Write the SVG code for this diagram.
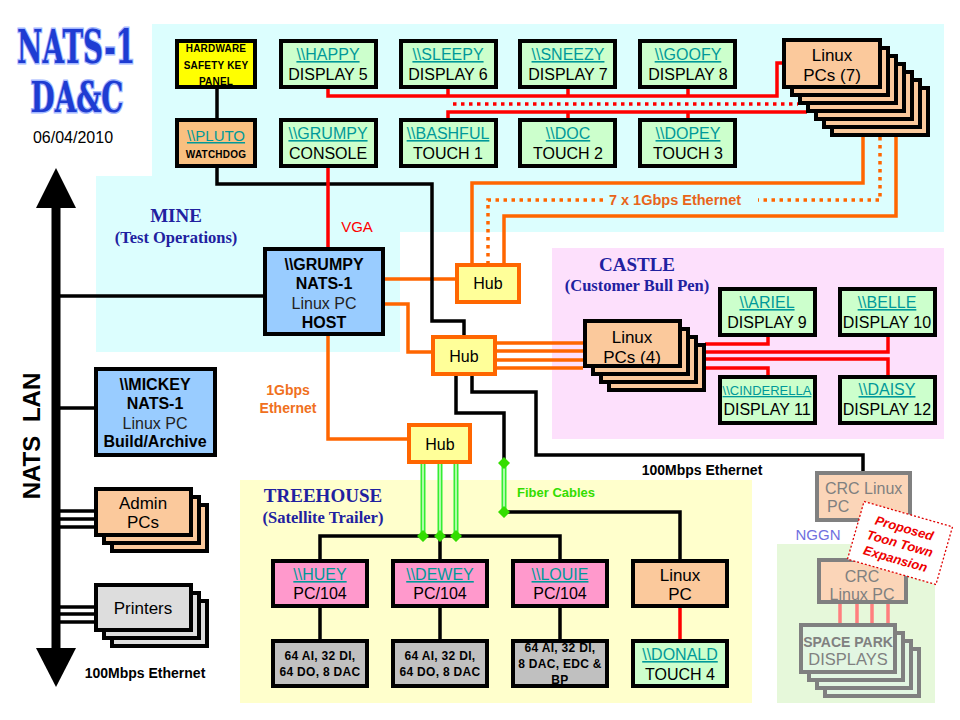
<svg xmlns="http://www.w3.org/2000/svg" width="960" height="720" viewBox="0 0 960 720">
<style>
text{font-family:"Liberation Sans",Arial,sans-serif;text-anchor:middle;fill:#000}
.bx{stroke:#000;stroke-width:4}
.grn{fill:#ccffcc}
.pch{fill:#fbc99c}
.blu{fill:#99ccff}
.pnk{fill:#ff99cc}
.gry{fill:#c0c0c0}
.hub{fill:#ffff99;stroke:#ff6600;stroke-width:4}
.f16{font-size:16px}
.lnk{fill:#009999;text-decoration:underline}
.b{font-weight:bold}
.io{font-size:12px;font-weight:bold;letter-spacing:0.3px}
.hw{font-weight:bold;letter-spacing:0.2px}
.ser{font-family:"Liberation Serif","Times New Roman",serif;font-weight:bold;fill:#2121a0}
.bk{fill:none;stroke:#000;stroke-width:3.5}
.rd{fill:none;stroke:#ff0000;stroke-width:3.5}
.rdd{fill:none;stroke:#ff0000;stroke-width:3.5;stroke-dasharray:3.5 4.5}
.or{fill:none;stroke:#ff6600;stroke-width:3.5}
.ord{fill:none;stroke:#ff6600;stroke-width:3.5;stroke-dasharray:3.5 4.5}
.fib{fill:none;stroke:#33ee33;stroke-width:5}
.fibi{fill:none;stroke:#d8ffd0;stroke-width:1.5}
.dia{fill:#33dd00}
.crc{fill:#fbd5b8;stroke:#808080;stroke-width:4}
.sp{fill:#e2f6e2;stroke:#808080;stroke-width:4}
.gt{fill:#808080}
.ttl{font-family:"DejaVu Serif","Liberation Serif",serif;font-weight:bold;fill:#1e3cd2;stroke:#a4b8ff;stroke-width:3;paint-order:stroke}
.note{font-size:13px;font-weight:bold;font-style:italic;fill:#ee0000}
</style>

<g id="backgrounds">
<rect width="960" height="720" fill="#ffffff"/>
<polygon points="152,24 944,24 944,232 400,232 400,352 96,352 96,176 152,176" fill="#dcfefe"/>
<rect x="552" y="248" width="392" height="191" fill="#fde0fc"/>
<rect x="240" y="480" width="512" height="223" fill="#ffffcc"/>
<rect x="777" y="544" width="158" height="159" fill="#e6f8da"/>
</g>

<g id="title">
<text class="ttl" x="76" y="63" font-size="47" textLength="118" lengthAdjust="spacingAndGlyphs">NATS-1</text>
<text class="ttl" x="77" y="112" font-size="43" textLength="93" lengthAdjust="spacingAndGlyphs">DA&amp;C</text>
<text x="73" y="143" font-size="16">06/04/2010</text>
</g>

<g id="zone-labels">
<text class="ser" x="176" y="222" font-size="19">MINE</text>
<text class="ser" x="176" y="243" font-size="16.5">(Test Operations)</text>
<text class="ser" x="637" y="271" font-size="19">CASTLE</text>
<text class="ser" x="637" y="291" font-size="16.5">(Customer Bull Pen)</text>
<text class="ser" x="323" y="502" font-size="19">TREEHOUSE</text>
<text class="ser" x="323" y="523" font-size="16.5">(Satellite Trailer)</text>
<text x="818" y="540" font-size="15" style="fill:#7070e0">NGGN</text>
</g>

<g id="nats-lan">
<line x1="56" y1="200" x2="56" y2="655" stroke="#000" stroke-width="9"/>
<polygon points="56,168 36,208 76,208" fill="#000"/>
<polygon points="56,687 36,648 76,648" fill="#000"/>
<text transform="translate(40,436) rotate(-90)" font-size="24" font-weight="bold" word-spacing="7">NATS LAN</text>
<text x="145" y="678" font-size="14" font-weight="bold">100Mbps Ethernet</text>
</g>

<g id="connectors">
<path class="bk" d="M56,296 H263 M56,408 H94 M56,511 H94 M56,519 H94 M56,527 H94 M56,607 H94 M56,614 H94 M56,622 H94"/>
<path class="or" d="M385,279 H455 M385,304 H408 V352 H431 M497,343 H583 M497,351 H583 M497,360 H583 M497,368 H583 M328,336 V439 H407 M863,137 V183 H472 V263 M896,137 V216 H504 V263"/>
<path class="ord" d="M880,137 V200 H758 M603,200 H488 V263"/>
<path class="bk" d="M217,89 V118 M217,168 V184 H432 V321 H464 V335 M456,376 V413 H504 V463 M472,376 V392 H536 V455 H863 V471 M504,512 H680 V559 M320,559 V536 H560 V559 M440,536 V559 M320,608 V639 M440,608 V639 M560,608 V639"/>
<path class="rd" d="M328,89 V96 H777 V63 H782 M448,89 V96 M568,89 V96 M688,89 V96 M448,118 V112 H807 M568,112 V118 M688,112 V118 M328,168 V247 M705,344 H768 V337 M705,352 H888 V337 M705,359 H888 V375 M705,368 H768 V375 M680,608 V639"/>
<path class="rdd" d="M453,104 H798"/>
<path class="fib" d="M423,464 V536 M440,464 V536 M456,464 V536 M504,463 V512"/>
<path class="fibi" d="M423,464 V536 M440,464 V536 M456,464 V536 M504,463 V512"/>
<path class="dia" d="M423,530 l6,6 l-6,6 l-6,-6z M440,530 l6,6 l-6,6 l-6,-6z M456,530 l6,6 l-6,6 l-6,-6z M504,457 l6,6 l-6,6 l-6,-6z M504,506 l6,6 l-6,6 l-6,-6z"/>
<path d="M840,604 V623 M857,604 V623 M872,604 V623 M888,604 V623" fill="none" stroke="#ff7f7f" stroke-width="3.5"/>
<text x="357" y="232" font-size="15" style="fill:#ff0000">VGA</text>
<text x="675" y="205" font-size="14.5" font-weight="bold" style="fill:#e8641a">7 x 1Gbps Ethernet</text>
<text x="288" y="395" font-size="14" font-weight="bold" style="fill:#f07020">1Gbps</text>
<text x="288" y="413" font-size="14" font-weight="bold" style="fill:#f07020">Ethernet</text>
<text x="702" y="475" font-size="14" font-weight="bold">100Mbps Ethernet</text>
<text x="556" y="497" font-size="13" font-weight="bold" style="fill:#33dd00">Fiber Cables</text>
</g>

<g id="hardware-key-panel">
<rect class="bx" x="177" y="41" width="78" height="46" fill="#ffff00"/>
<text class="hw" x="216" y="52" font-size="10"><tspan x="216" y="52">HARDWARE</tspan><tspan x="216" y="68.5">SAFETY KEY</tspan><tspan x="216" y="85">PANEL</tspan></text>
</g>
<g id="happy">
<rect class="bx grn" x="281" y="41" width="95" height="46"/>
<text class="f16 lnk" x="328" y="60">\\HAPPY</text>
<text class="f16" x="328" y="80">DISPLAY 5</text>
</g>
<g id="sleepy">
<rect class="bx grn" x="401" y="41" width="95" height="46"/>
<text class="f16 lnk" x="448" y="60">\\SLEEPY</text>
<text class="f16" x="448" y="80">DISPLAY 6</text>
</g>
<g id="sneezy">
<rect class="bx grn" x="520" y="41" width="95" height="46"/>
<text class="f16 lnk" x="568" y="60">\\SNEEZY</text>
<text class="f16" x="568" y="80">DISPLAY 7</text>
</g>
<g id="goofy">
<rect class="bx grn" x="640" y="41" width="95" height="46"/>
<text class="f16 lnk" x="688" y="60">\\GOOFY</text>
<text class="f16" x="688" y="80">DISPLAY 8</text>
</g>
<g id="linux-pcs-7">
<rect class="bx pch" x="832" y="88" width="96" height="47"/>
<rect class="bx pch" x="824" y="80" width="96" height="47"/>
<rect class="bx pch" x="816" y="72" width="96" height="47"/>
<rect class="bx pch" x="808" y="64" width="96" height="47"/>
<rect class="bx pch" x="800" y="56" width="96" height="47"/>
<rect class="bx pch" x="792" y="48" width="96" height="47"/>
<rect class="bx pch" x="784" y="40" width="96" height="47"/>
<text x="832" y="61" font-size="17">Linux</text>
<text x="832" y="81" font-size="17">PCs (7)</text>
</g>

<g id="pluto">
<rect class="bx" x="177" y="120" width="78" height="46" fill="#f9c080"/>
<text class="lnk" x="216" y="141" font-size="15">\\PLUTO</text>
<text class="hw" x="216" y="158" font-size="10">WATCHDOG</text>
</g>
<g id="grumpy-console">
<rect class="bx grn" x="281" y="120" width="95" height="46"/>
<text class="f16 lnk" x="328" y="139">\\GRUMPY</text>
<text class="f16" x="328" y="159">CONSOLE</text>
</g>
<g id="bashful">
<rect class="bx grn" x="401" y="120" width="95" height="46"/>
<text class="f16 lnk" x="448" y="139">\\BASHFUL</text>
<text class="f16" x="448" y="159">TOUCH 1</text>
</g>
<g id="doc">
<rect class="bx grn" x="520" y="120" width="95" height="46"/>
<text class="f16 lnk" x="568" y="139">\\DOC</text>
<text class="f16" x="568" y="159">TOUCH 2</text>
</g>
<g id="dopey">
<rect class="bx grn" x="640" y="120" width="95" height="46"/>
<text class="f16 lnk" x="688" y="139">\\DOPEY</text>
<text class="f16" x="688" y="159">TOUCH 3</text>
</g>

<g id="grumpy-host">
<rect class="bx blu" x="265" y="249" width="118" height="85"/>
<text class="f16 b" x="324" y="270">\\GRUMPY</text>
<text class="f16 b" x="324" y="289">NATS-1</text>
<text class="f16" x="324" y="309" style="fill:#222">Linux PC</text>
<text class="f16 b" x="324" y="328">HOST</text>
</g>
<g id="mickey">
<rect class="bx blu" x="96" y="369" width="119" height="86"/>
<text class="f16 b" x="155" y="390">\\MICKEY</text>
<text class="f16 b" x="155" y="409">NATS-1</text>
<text class="f16" x="155" y="429" style="fill:#222">Linux PC</text>
<text class="f16 b" x="155" y="447">Build/Archive</text>
</g>
<g id="admin-pcs">
<rect class="bx pch" x="112" y="505" width="95" height="46"/>
<rect class="bx pch" x="104" y="497" width="95" height="46"/>
<rect class="bx pch" x="96" y="489" width="95" height="46"/>
<text x="143" y="509" font-size="17">Admin</text>
<text x="143" y="528" font-size="17">PCs</text>
</g>
<g id="printers">
<rect class="bx" x="112" y="601" width="95" height="45" fill="#dddddd"/>
<rect class="bx" x="104" y="593" width="95" height="45" fill="#dddddd"/>
<rect class="bx" x="96" y="585" width="95" height="45" fill="#dddddd"/>
<text x="143" y="614" font-size="17">Printers</text>
</g>

<g id="hub-1">
<rect class="hub" x="457" y="265" width="62" height="37"/>
<text class="f16" x="488" y="289">Hub</text>
</g>
<g id="hub-2">
<rect class="hub" x="433" y="337" width="62" height="37"/>
<text class="f16" x="464" y="362">Hub</text>
</g>
<g id="hub-3">
<rect class="hub" x="409" y="425" width="61" height="37"/>
<text class="f16" x="440" y="450">Hub</text>
</g>

<g id="linux-pcs-4">
<rect class="bx pch" x="609" y="345" width="95" height="45"/>
<rect class="bx pch" x="601" y="337" width="95" height="45"/>
<rect class="bx pch" x="593" y="329" width="95" height="45"/>
<rect class="bx pch" x="585" y="321" width="95" height="45"/>
<text x="632" y="343" font-size="17">Linux</text>
<text x="632" y="363" font-size="17">PCs (4)</text>
</g>
<g id="ariel">
<rect class="bx grn" x="720" y="289" width="95" height="46"/>
<text class="f16 lnk" x="767" y="308">\\ARIEL</text>
<text class="f16" x="767" y="328">DISPLAY 9</text>
</g>
<g id="belle">
<rect class="bx grn" x="840" y="289" width="95" height="46"/>
<text class="f16 lnk" x="887" y="308">\\BELLE</text>
<text class="f16" x="887" y="328">DISPLAY 10</text>
</g>
<g id="cinderella">
<rect class="bx grn" x="720" y="377" width="95" height="46"/>
<text class="lnk" x="767" y="395" font-size="13">\\CINDERELLA</text>
<text class="f16" x="767" y="415">DISPLAY 11</text>
</g>
<g id="daisy">
<rect class="bx grn" x="840" y="377" width="95" height="46"/>
<text class="f16 lnk" x="887" y="395">\\DAISY</text>
<text class="f16" x="887" y="415">DISPLAY 12</text>
</g>

<g id="huey">
<rect class="bx pnk" x="273" y="561" width="94" height="45"/>
<text class="f16 lnk" x="320" y="580">\\HUEY</text>
<text class="f16" x="320" y="599">PC/104</text>
</g>
<g id="dewey">
<rect class="bx pnk" x="393" y="561" width="94" height="45"/>
<text class="f16 lnk" x="440" y="580">\\DEWEY</text>
<text class="f16" x="440" y="599">PC/104</text>
</g>
<g id="louie">
<rect class="bx pnk" x="513" y="561" width="94" height="45"/>
<text class="f16 lnk" x="560" y="580">\\LOUIE</text>
<text class="f16" x="560" y="599">PC/104</text>
</g>
<g id="linux-pc">
<rect class="bx pch" x="633" y="561" width="94" height="45"/>
<text x="680" y="581" font-size="17">Linux</text>
<text x="680" y="600" font-size="17">PC</text>
</g>
<g id="huey-io">
<rect class="bx gry" x="273" y="641" width="94" height="45"/>
<text class="io" x="320" y="660">64 AI, 32 DI,</text>
<text class="io" x="320" y="676">64 DO, 8 DAC</text>
</g>
<g id="dewey-io">
<rect class="bx gry" x="393" y="641" width="94" height="45"/>
<text class="io" x="440" y="660">64 AI, 32 DI,</text>
<text class="io" x="440" y="676">64 DO, 8 DAC</text>
</g>
<g id="louie-io">
<rect class="bx gry" x="513" y="641" width="94" height="45"/>
<text class="io" x="560" y="652">64 AI, 32 DI,</text>
<text class="io" x="560" y="668">8 DAC, EDC &amp;</text>
<text class="io" x="560" y="684">BP</text>
</g>
<g id="donald">
<rect class="bx grn" x="633" y="641" width="94" height="45"/>
<text class="f16 lnk" x="680" y="660">\\DONALD</text>
<text class="f16" x="680" y="680">TOUCH 4</text>
</g>

<g id="crc-linux-pc-top">
<rect class="crc" x="817" y="473" width="93" height="47"/>
<text class="f16 gt" x="825" y="494" style="text-anchor:start">CRC Linux</text>
<text class="f16 gt" x="827" y="512" style="text-anchor:start">PC</text>
</g>
<g id="crc-linux-pc">
<rect class="crc" x="819" y="560" width="87" height="42"/>
<text class="f16 gt" x="862" y="582">CRC</text>
<text class="f16 gt" x="862" y="600">Linux PC</text>
</g>
<g id="space-park-displays">
<rect class="sp" x="825" y="649" width="94" height="47"/>
<rect class="sp" x="817" y="641" width="94" height="47"/>
<rect class="sp" x="809" y="633" width="94" height="47"/>
<rect class="sp" x="801" y="625" width="94" height="47"/>
<text class="gt" x="848" y="647" font-size="14" font-weight="bold">SPACE PARK</text>
<text class="gt" x="848" y="665" font-size="16.5">DISPLAYS</text>
</g>
<g id="toon-town-note" transform="translate(900,543) rotate(16)">
<rect x="-46" y="-30" width="92" height="60" fill="#ffffff" stroke="#e00000" stroke-width="1.3" stroke-dasharray="2 2"/>
<text class="note" y="-11">Proposed</text>
<text class="note" y="5">Toon Town</text>
<text class="note" y="21">Expansion</text>
</g>
</svg>
